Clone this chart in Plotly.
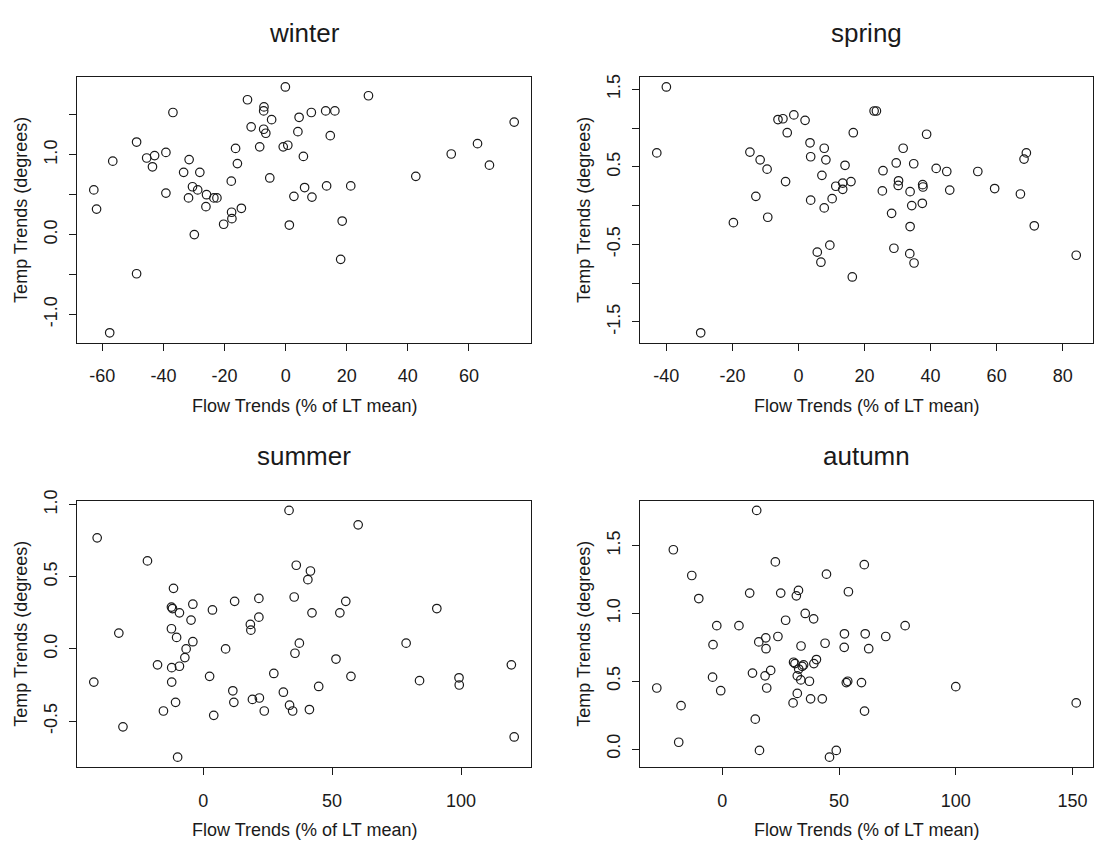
import plotly.graph_objects as go

# ---------------- data ----------------
seasons = ["winter", "spring", "summer", "autumn"]

winter_flow = [-0.1, 27.1, -12.5, -7.1, -7.2, -36.9, 8.4, 13.1, 16.1, 4.4, -4.6, 74.8, -11.3,
               -7.2, -6.5, 4.0, 14.6, -48.8, 62.8, -8.5, -0.8, 0.7, -16.4, -39.2, 54.2, -42.9,
               -45.5, 5.8, -31.6, -56.6, -15.8, -43.6, 66.7, -33.4, -28.1, 42.6, -5.2, -17.8,
               -62.8, -30.5, -28.8, 13.4, 21.3, 6.2, -39.2, -25.9, -31.8, -23.5, -22.5, 2.7,
               8.6, -61.9, -26.1, -14.5, -17.7, -17.6, -20.3, 1.2, 18.5, -29.9, 18.0, -48.8, -57.6]
winter_temp = [1.85, 1.74, 1.69, 1.60, 1.55, 1.53, 1.53, 1.55, 1.55, 1.47, 1.44, 1.41, 1.35,
               1.32, 1.27, 1.29, 1.24, 1.16, 1.14, 1.10, 1.10, 1.12, 1.08, 1.03, 1.01, 0.99,
               0.96, 0.98, 0.94, 0.92, 0.89, 0.85, 0.87, 0.78, 0.78, 0.73, 0.71, 0.67,
               0.56, 0.60, 0.56, 0.61, 0.61, 0.59, 0.52, 0.50, 0.46, 0.46, 0.46, 0.48,
               0.47, 0.32, 0.35, 0.33, 0.28, 0.20, 0.13, 0.12, 0.17, 0.00, -0.31, -0.49, -1.23]

spring_flow = [-40.0, -29.6, -42.9, 22.9, 23.6, -1.4, -6.2, -4.7, 2.0, -3.4, 16.6, 38.8, 3.5,
               7.8, 31.7, -14.7, 69.0, 68.3, -11.6, 3.7, 8.3, 29.6, 34.9, 14.1, -9.5, 25.6,
               41.7, 44.9, 54.3, 7.1, -3.9, 15.9, 13.4, 30.3, 30.2, 11.3, 37.6, 37.7, 13.4,
               25.4, 45.8, 59.4, 33.8, 67.2, -12.9, 3.7, 10.2, 7.8, 37.5, 34.3, 28.2, -9.3,
               -19.7, 33.8, 71.4, 9.5, 28.9, 5.7, 33.7, 84.1, 6.8, 35.0, 16.3]
spring_temp = [1.53, -1.64, 0.68, 1.22, 1.22, 1.17, 1.11, 1.12, 1.10, 0.94, 0.94, 0.92, 0.81,
               0.74, 0.74, 0.69, 0.68, 0.60, 0.59, 0.63, 0.59, 0.55, 0.54, 0.52, 0.47, 0.45,
               0.48, 0.44, 0.44, 0.39, 0.31, 0.31, 0.29, 0.32, 0.26, 0.25, 0.27, 0.24, 0.21,
               0.19, 0.20, 0.22, 0.18, 0.15, 0.12, 0.07, 0.09, -0.03, 0.03, 0.00, -0.10, -0.15,
               -0.22, -0.27, -0.26, -0.51, -0.55, -0.60, -0.62, -0.64, -0.73, -0.74, -0.92]

summer_flow = [33.3, 60.1, -41.1, -21.6, 36.1, 41.6, 40.6, -11.5, 12.2, 21.6, 35.3, 55.3, -4.0,
               -12.3, -11.9, 3.6, 90.6, -9.2, 42.2, 53.0, -4.7, 21.6, 18.3, 18.5, -12.3, -32.7,
               -10.3, -4.0, 37.3, 78.7, -6.6, 8.7, 35.6, -7.1, 51.5, 119.5, -17.7, -12.2, -9.2,
               27.4, 2.5, 57.3, 99.2, 83.9, 99.3, -42.4, -12.2, 44.8, 11.5, 31.1, 19.1, 21.8,
               11.9, -10.7, 33.5, 41.2, 34.7, 23.7, -15.4, 4.1, -31.1, 120.6, -9.9]
summer_temp = [0.96, 0.86, 0.77, 0.61, 0.58, 0.54, 0.48, 0.42, 0.33, 0.35, 0.36, 0.33, 0.31,
               0.29, 0.28, 0.27, 0.28, 0.25, 0.25, 0.25, 0.20, 0.22, 0.17, 0.13, 0.14, 0.11,
               0.08, 0.05, 0.04, 0.04, 0.00, 0.00, -0.03, -0.06, -0.07, -0.11, -0.11, -0.13, -0.12,
               -0.17, -0.19, -0.19, -0.20, -0.22, -0.25, -0.23, -0.23, -0.26, -0.29, -0.30, -0.35, -0.34,
               -0.37, -0.37, -0.39, -0.42, -0.43, -0.43, -0.43, -0.46, -0.54, -0.61, -0.75]

autumn_flow = [14.7, -21.0, 60.8, 22.7, -13.1, 44.6, 32.6, 11.7, 25.0, 54.0, 31.7, -10.1, 35.5,
               39.1, 27.1, -2.4, 7.1, 78.3, 52.3, 61.2, 23.8, 70.0, 18.6, 15.6, -4.0, 44.0,
               33.7, 18.7, 52.2, 62.7, 40.3, 30.5, 31.1, 39.2, 34.8, 34.2, 32.7, 20.7, 12.9,
               32.1, 18.3, -4.2, 33.6, 37.3, 53.7, 53.1, 59.6, -28.1, 19.0, 100.0, -0.7, 32.1,
               37.8, 42.8, 30.3, 151.6, -17.7, 60.9, 14.1, -18.7, 15.9, 48.8, 45.9]
autumn_temp = [1.76, 1.47, 1.36, 1.38, 1.28, 1.29, 1.17, 1.15, 1.15, 1.16, 1.13, 1.11, 1.00,
               0.96, 0.95, 0.91, 0.91, 0.91, 0.85, 0.85, 0.83, 0.83, 0.82, 0.79, 0.77, 0.78,
               0.76, 0.74, 0.75, 0.74, 0.66, 0.64, 0.63, 0.63, 0.62, 0.61, 0.59, 0.58, 0.56,
               0.54, 0.54, 0.53, 0.51, 0.50, 0.50, 0.49, 0.49, 0.45, 0.45, 0.46, 0.43, 0.41,
               0.37, 0.37, 0.34, 0.34, 0.32, 0.28, 0.22, 0.05, -0.01, -0.01, -0.06]

# tick values / labels (R drops labels that would overlap)
winter_xticks = [-60, -40, -20, 0, 20, 40, 60]
winter_yticks = [-1.0, -0.5, 0.0, 0.5, 1.0, 1.5]
winter_ylabels = ["-1.0", "", "0.0", "", "1.0", ""]
spring_xticks = [-40, -20, 0, 20, 40, 60, 80]
spring_yticks = [-1.5, -1.0, -0.5, 0.0, 0.5, 1.0, 1.5]
spring_ylabels = ["-1.5", "", "-0.5", "", "0.5", "", "1.5"]
summer_xticks = [0, 50, 100]
summer_yticks = [-0.5, 0.0, 0.5, 1.0]
summer_ylabels = ["-0.5", "0.0", "0.5", "1.0"]
autumn_xticks = [0, 50, 100, 150]
autumn_yticks = [0.0, 0.5, 1.0, 1.5]
autumn_ylabels = ["0.0", "0.5", "1.0", "1.5"]

x_title = "Flow Trends (% of LT mean)"
y_title = "Temp Trends (degrees)"

# ---------------- layout geometry (pixels) ----------------
W, H = 1094, 845
cols = [(77, 531), (640, 1093)]
rows = [(67, 336), (496, 766)]

panels = [
    (winter_flow, winter_temp, winter_xticks, winter_yticks, winter_ylabels, 0, 0),
    (spring_flow, spring_temp, spring_xticks, spring_yticks, spring_ylabels, 0, 1),
    (summer_flow, summer_temp, summer_xticks, summer_yticks, summer_ylabels, 1, 0),
    (autumn_flow, autumn_temp, autumn_xticks, autumn_yticks, autumn_ylabels, 1, 1),
]

FONT = "Liberation Sans, Arial, Helvetica, sans-serif"
INK = "#1a1a1a"


def pad_range(v):
    lo, hi = min(v), max(v)
    d = (hi - lo) * 0.04
    return [lo - d, hi + d]


fig = go.Figure()
layout = dict(
    width=W, height=H,
    margin=dict(l=0, r=0, t=0, b=0),
    paper_bgcolor="white", plot_bgcolor="white",
    showlegend=False,
    font=dict(family=FONT, color=INK, size=18),
)
annotations = []

for i, (xs, ys, xt, yt, yl, r, c) in enumerate(panels):
    n = "" if i == 0 else str(i + 1)
    fig.add_trace(go.Scatter(
        x=xs, y=ys, mode="markers",
        marker=dict(symbol="circle-open", size=8.5, color=INK, line=dict(width=1.2, color=INK)),
        xaxis="x" + n, yaxis="y" + n, hoverinfo="x+y",
    ))
    x0, x1 = cols[c]
    y0, y1 = rows[r]
    common = dict(showgrid=False, zeroline=False, showline=True, linecolor=INK, linewidth=1.2,
                  mirror=True, ticks="outside", ticklen=7, tickwidth=1.2, tickcolor=INK,
                  tickfont=dict(family=FONT, size=18, color=INK))
    layout["xaxis" + n] = dict(
        common, domain=[x0 / W, x1 / W], anchor="y" + n, range=pad_range(xs),
        tickmode="array", tickvals=xt, ticktext=[str(v) for v in xt],
        ticklabelstandoff=10,
    )
    layout["yaxis" + n] = dict(
        common, domain=[1 - y1 / H, 1 - y0 / H], anchor="x" + n, range=pad_range(ys),
        tickmode="array", tickvals=yt, ticktext=yl, tickangle=-90,
        ticklabelstandoff=5,
    )
    # panel title
    annotations.append(dict(
        text=seasons[i], xref="paper", yref="paper",
        x=(x0 + x1) / 2 / W, y=1 - (y0 - 45) / H, xanchor="center", yanchor="middle",
        showarrow=False, font=dict(family=FONT, size=26, color=INK)))
    # x axis title
    annotations.append(dict(
        text=x_title, xref="paper", yref="paper",
        x=(x0 + x1) / 2 / W, y=1 - (y1 + 64) / H, xanchor="center", yanchor="middle",
        showarrow=False, font=dict(family=FONT, size=18, color=INK)))
    # y axis title
    annotations.append(dict(
        text=y_title, xref="paper", yref="paper",
        x=(x0 - 56) / W, y=1 - (y0 + y1) / 2 / H, xanchor="center", yanchor="middle",
        textangle=-90, showarrow=False, font=dict(family=FONT, size=18, color=INK)))

layout["annotations"] = annotations
fig.update_layout(**layout)
fig.write_html("out.html")
